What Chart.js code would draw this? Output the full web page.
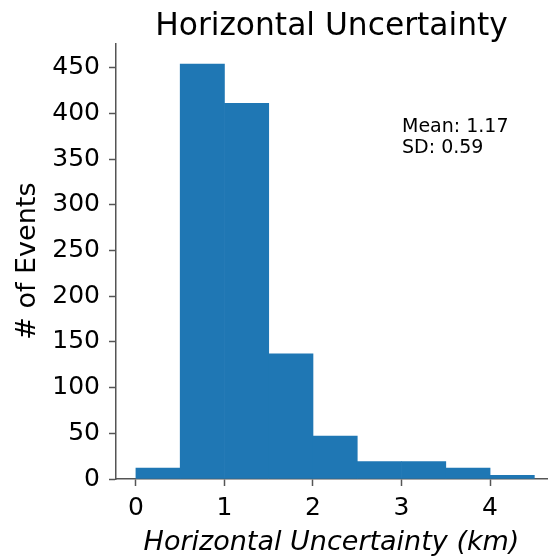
<!DOCTYPE html>
<html>
<head>
<meta charset="utf-8">
<script src="https://cdn.jsdelivr.net/npm/chart.js@4.4.1/dist/chart.umd.min.js"></script>
<style>
  html, body { margin: 0; padding: 0; background: #fff; }
  #wrap { width: 548px; height: 558px; position: relative; }
</style>
</head>
<body>
<div id="wrap"><canvas id="c" width="548" height="558"></canvas></div>
<script>
// ---- data ----
const binStarts = [0, 0.5, 1.0, 1.5, 2.0, 2.5, 3.0, 3.5, 4.0];
const binWidth = 0.5;
const counts = [12, 454, 411, 137, 47, 19, 19, 12, 4];
const xTickValues = [0, 1, 2, 3, 4];
const yTickValues = [0, 50, 100, 150, 200, 250, 300, 350, 400, 450];
const titleText = "Horizontal Uncertainty";
const xLabel = "Horizontal Uncertainty (km)";
const yLabel = "# of Events";
const statsLines = ["Mean: 1.17", "SD: 0.59"];

const FONT = "'DejaVu Sans', 'Liberation Sans', sans-serif";
const AXIS_COLOR = '#555';

const points = binStarts.map((s, i) => ({ x: s + binWidth / 2, y: counts[i] }));
const maxCount = Math.max(...counts);

const statsPlugin = {
  id: 'stats',
  afterDraw(chart) {
    const ctx = chart.ctx;
    ctx.save();
    ctx.font = "19px " + FONT;
    ctx.fillStyle = '#000';
    ctx.textBaseline = 'alphabetic';
    ctx.textAlign = 'left';
    const x0 = chart.chartArea.left + 286;
    const y0 = chart.chartArea.top + 88.5;
    statsLines.forEach((t, i) => ctx.fillText(t, x0, y0 + i * 21.6));
    ctx.restore();
  }
};

new Chart(document.getElementById('c'), {
  type: 'bar',
  data: {
    datasets: [{
      data: points,
      backgroundColor: '#1f77b4',
      borderWidth: 0,
      barPercentage: 1.0,
      categoryPercentage: 1.0,
      grouped: false
    }]
  },
  options: {
    responsive: false,
    animation: false,
    devicePixelRatio: 1,
    layout: { padding: { left: 0, right: 1, top: 0, bottom: 0 } },
    plugins: {
      legend: { display: false },
      tooltip: { enabled: false },
      title: {
        display: true,
        text: titleText,
        fullSize: false,
        color: '#000',
        font: { family: FONT, size: 31.3, weight: 'normal', lineHeight: 1.0 },
        padding: { top: 11, bottom: 1 }
      }
    },
    scales: {
      x: {
        type: 'linear',
        offset: false,
        min: -0.225,
        max: 4.643,
        afterBuildTicks(scale) { scale.ticks = xTickValues.map(v => ({ value: v })); },
        afterFit(scale) { scale.height = 79; },
        ticks: {
          color: '#000',
          font: { family: FONT, size: 25 },
          padding: 7,
          maxRotation: 0,
          autoSkip: false
        },
        grid: {
          offset: false,
          drawOnChartArea: false,
          drawTicks: true,
          tickLength: 7,
          tickColor: AXIS_COLOR,
          tickWidth: 1.5
        },
        border: { display: true, color: AXIS_COLOR, width: 1.5 },
        title: {
          display: true,
          text: xLabel,
          color: '#000',
          font: { family: FONT, size: 27, style: 'italic' },
          padding: { top: 0, bottom: -1 }
        }
      },
      y: {
        type: 'linear',
        min: 0,
        max: maxCount * 1.05,
        afterBuildTicks(scale) { scale.ticks = yTickValues.map(v => ({ value: v })); },
        afterFit(scale) { scale.width = 116; },
        ticks: {
          color: '#000',
          font: { family: FONT, size: 25 },
          padding: 9
        },
        grid: {
          drawOnChartArea: false,
          drawTicks: true,
          tickLength: 7,
          tickColor: AXIS_COLOR,
          tickWidth: 1.5
        },
        border: { display: true, color: AXIS_COLOR, width: 1.5 },
        title: {
          display: true,
          text: yLabel,
          color: '#000',
          font: { family: FONT, size: 27 },
          padding: { top: 12, bottom: 0 }
        }
      }
    }
  },
  plugins: [statsPlugin]
});
</script>
</body>
</html>
